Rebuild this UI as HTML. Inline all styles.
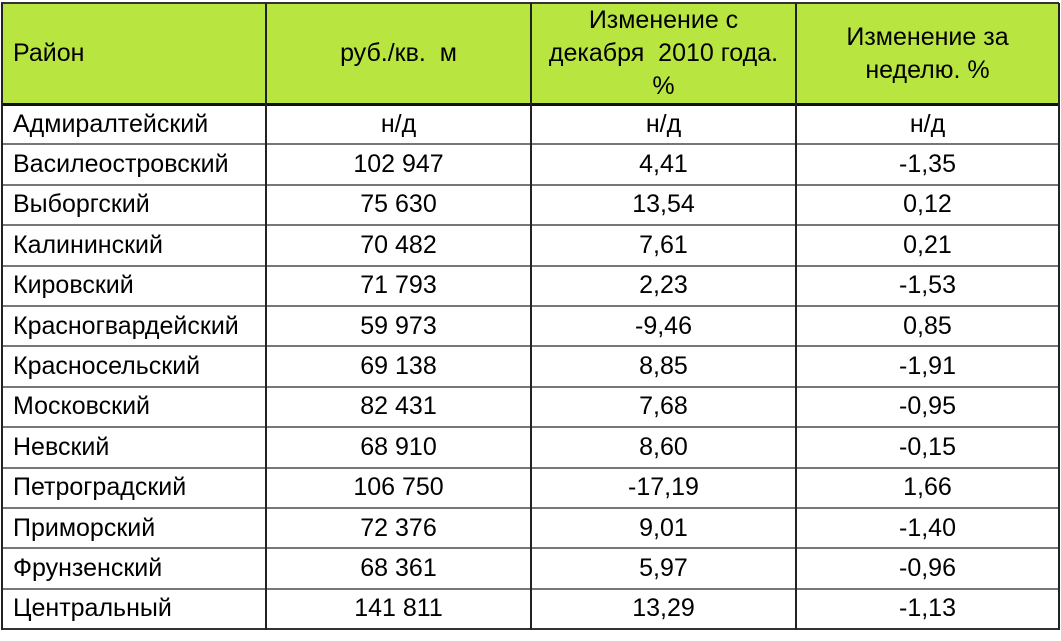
<!DOCTYPE html>
<html><head><meta charset="utf-8"><style>
body{margin:0;background:#fff;width:1061px;height:641px;overflow:hidden;position:relative;font-family:"Liberation Sans",Arial,sans-serif;}
.c{position:absolute;box-sizing:border-box;display:flex;align-items:center;justify-content:center;font-size:25px;color:#000;text-align:center;line-height:33px;white-space:nowrap;}
.l{justify-content:flex-start;padding-left:11px;text-align:left;}
.h{background:#b9e541;}
.hl{position:absolute;left:1px;width:1058px;height:2px;background:#333;}
.vl{position:absolute;top:3px;width:2px;height:627px;background:#222;}
</style></head><body>
<div id="t"></div>
<script>
const districts=["Адмиралтейский","Василеостровский","Выборгский","Калининский","Кировский","Красногвардейский","Красносельский","Московский","Невский","Петроградский","Приморский","Фрунзенский","Центральный"];
const prices=["н/д","102 947","75 630","70 482","71 793","59 973","69 138","82 431","68 910","106 750","72 376","68 361","141 811"];
const changeYear=["н/д","4,41","13,54","7,61","2,23","-9,46","8,85","7,68","8,60","-17,19","9,01","5,97","13,29"];
const changeWeek=["н/д","-1,35","0,12","0,21","-1,53","0,85","-1,91","-0,95","-0,15","1,66","-1,40","-0,96","-1,13"];
const headers=["Район","руб./кв.&nbsp; м","Изменение с<br>декабря&nbsp; 2010 года.<br>%","Изменение за<br>неделю. %"];
const xs=[2,266,531,796,1059];
const top0=3,headH=101,rowH=40.4;
const b=document.body;
function cell(x0,x1,y0,y1,html,cls,name){
  const d=document.createElement('div');
  d.className='c '+cls;
  d.style.left=x0+'px';d.style.width=(x1-x0)+'px';d.style.top=y0+'px';d.style.height=(y1-y0)+'px';
  d.innerHTML=html;
  
  
  b.appendChild(d);
}
headers.forEach((h,i)=>cell(xs[i],xs[i+1],top0,top0+headH,h,'h'+(i==0?' l':''),'header-cell'));
const cols=[districts,prices,changeYear,changeWeek];
districts.forEach((_,r)=>{
  const y0=top0+headH+r*rowH;
  cols.forEach((col,i)=>cell(xs[i],xs[i+1],y0,y0+rowH,col[r],i==0?'l':'','table-cell'));
});
for(let r=0;r<=districts.length+1;r++){
  const y=r==0?top0:top0+headH+(r-1)*rowH;
  const d=document.createElement('div');d.className='hl';
  d.style.top=(y-1)+'px';
  if(r==1){d.style.height='3px';d.style.background='#111';}
  else if(r>1&&r<=districts.length){d.style.background='#777';}
  
  
  b.appendChild(d);
}
xs.forEach(x=>{const d=document.createElement('div');d.className='vl';d.style.left=(x-1)+'px';
  
  
  b.appendChild(d);});
</script>
</body></html>
